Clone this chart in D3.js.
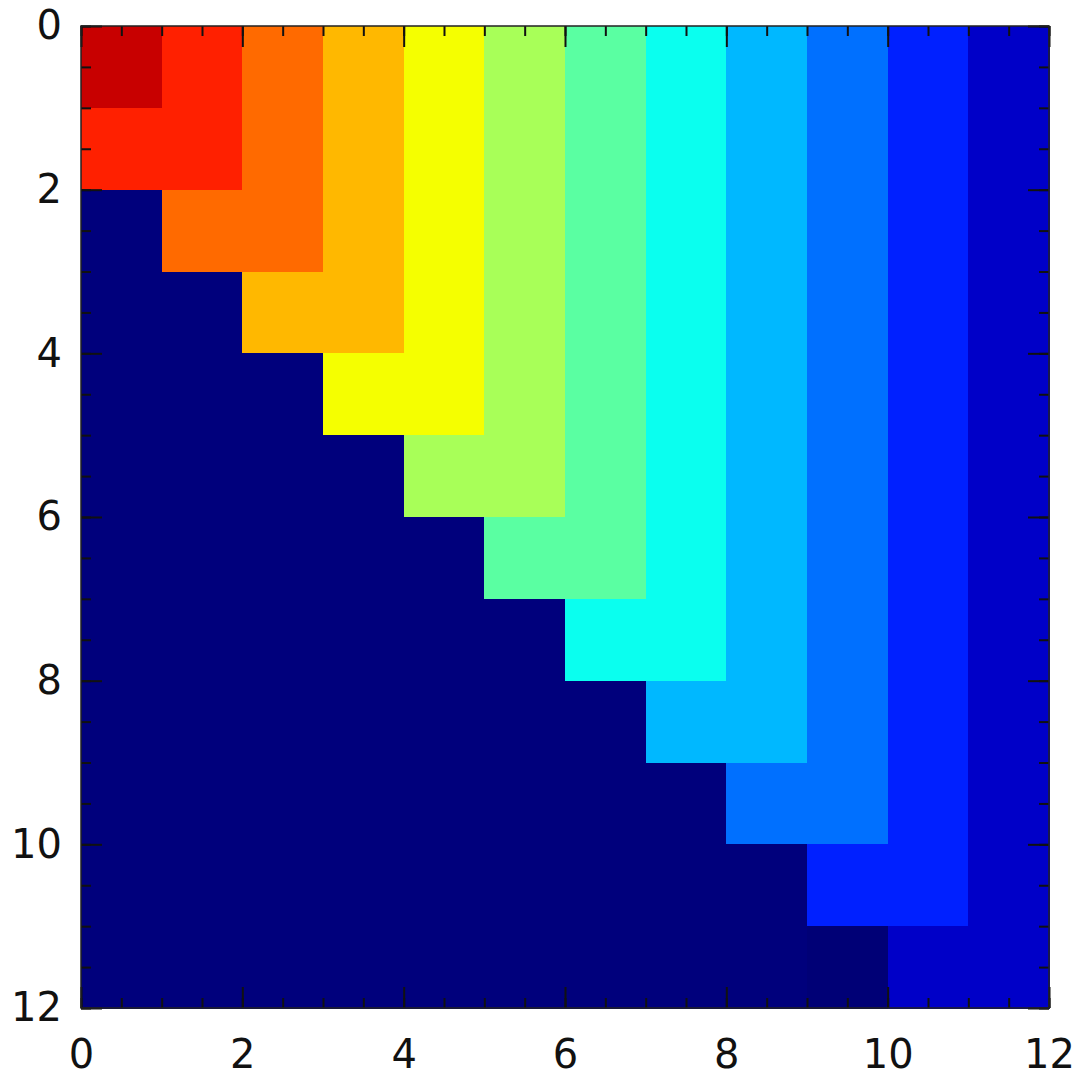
<!DOCTYPE html>
<html>
<head>
<meta charset="utf-8">
<script src="https://cdn.jsdelivr.net/npm/d3@7"></script>
<style>
  html, body { margin: 0; padding: 0; background: #fff; }
  svg { display: block; }
</style>
</head>
<body>
<svg id="chart" width="1078" height="1076"></svg>
<script>
// ---- data ----
const matrix = [
  [12, 11, 10, 9, 8, 7, 6, 5, 4, 3, 2, 1],
  [11, 11, 10, 9, 8, 7, 6, 5, 4, 3, 2, 1],
  [ 0, 10, 10, 9, 8, 7, 6, 5, 4, 3, 2, 1],
  [ 0,  0,  9, 9, 8, 7, 6, 5, 4, 3, 2, 1],
  [ 0,  0,  0, 8, 8, 7, 6, 5, 4, 3, 2, 1],
  [ 0,  0,  0, 0, 7, 7, 6, 5, 4, 3, 2, 1],
  [ 0,  0,  0, 0, 0, 6, 6, 5, 4, 3, 2, 1],
  [ 0,  0,  0, 0, 0, 0, 5, 5, 4, 3, 2, 1],
  [ 0,  0,  0, 0, 0, 0, 0, 4, 4, 3, 2, 1],
  [ 0,  0,  0, 0, 0, 0, 0, 0, 3, 3, 2, 1],
  [ 0,  0,  0, 0, 0, 0, 0, 0, 0, 2, 2, 1],
  [ 0,  0,  0, 0, 0, 0, 0, 0, 0, -1, 1, 1]
];
const levels = [-1, 0, 1, 2, 3, 4, 5, 6, 7, 8, 9, 10, 11, 12];
const xTickLabels = [0, 2, 4, 6, 8, 10, 12];
const yTickLabels = [0, 2, 4, 6, 8, 10, 12];
const minorTicks = [0, 0.5, 1, 1.5, 2, 2.5, 3, 3.5, 4, 4.5, 5, 5.5, 6, 6.5, 7, 7.5, 8, 8.5, 9, 9.5, 10, 10.5, 11, 11.5, 12];

// ---- style ----
const palette = ["#000076", "#00007c", "#0000c8", "#0020ff", "#0070ff", "#00b8ff",
                 "#0affef", "#5affa2", "#a8ff58", "#f5ff00", "#ffb800", "#ff6a00",
                 "#ff2000", "#c80000"];
const pLeft = 81, pRight = 1049, pTop = 26, pBottom = 1008;

const svg = d3.select("#chart");
const nCols = matrix[0].length, nRows = matrix.length;
const x = d3.scaleLinear().domain([0, nCols]).range([pLeft, pRight]);
const y = d3.scaleLinear().domain([0, nRows]).range([pTop, pBottom]);
const color = d3.scaleOrdinal().domain(levels).range(palette);

const cells = [];
matrix.forEach((row, i) => row.forEach((v, j) => cells.push({i, j, v})));

svg.append("g").selectAll("rect").data(cells).join("rect")
  .attr("x", d => x(d.j))
  .attr("y", d => y(d.i))
  .attr("width", d => x(d.j + 1) - x(d.j) + 0.5)
  .attr("height", d => y(d.i + 1) - y(d.i) + 0.5)
  .attr("fill", d => color(d.v))
  .attr("shape-rendering", "crispEdges");

function styleAxis(g) {
  g.select(".domain").remove();
  g.selectAll(".tick line").attr("stroke", "#111").attr("stroke-width", 2);
  g.selectAll("text").attr("font-family", "DejaVu Sans").attr("font-size", 40).attr("fill", "#111");
}

const minorLen = 10, majorLen = 21;
// minor ticks, all four sides
svg.append("g").attr("transform", `translate(0,${pBottom})`)
  .call(d3.axisBottom(x).tickValues(minorTicks).tickSize(-minorLen).tickFormat("")).call(styleAxis);
svg.append("g").attr("transform", `translate(0,${pTop})`)
  .call(d3.axisTop(x).tickValues(minorTicks).tickSize(-minorLen).tickFormat("")).call(styleAxis);
svg.append("g").attr("transform", `translate(${pLeft},0)`)
  .call(d3.axisLeft(y).tickValues(minorTicks).tickSize(-minorLen).tickFormat("")).call(styleAxis);
svg.append("g").attr("transform", `translate(${pRight},0)`)
  .call(d3.axisRight(y).tickValues(minorTicks).tickSize(-minorLen).tickFormat("")).call(styleAxis);

// major ticks + labels
svg.append("g").attr("transform", `translate(0,${pBottom})`)
  .call(d3.axisBottom(x).tickValues(xTickLabels).tickSize(-majorLen).tickPadding(32).tickFormat(d3.format("d"))).call(styleAxis);
svg.append("g").attr("transform", `translate(0,${pTop})`)
  .call(d3.axisTop(x).tickValues(xTickLabels).tickSize(-majorLen).tickFormat("")).call(styleAxis);
svg.append("g").attr("transform", `translate(${pLeft},0)`)
  .call(d3.axisLeft(y).tickValues(yTickLabels).tickSize(-majorLen).tickPadding(19).tickFormat(d3.format("d"))).call(styleAxis);
svg.append("g").attr("transform", `translate(${pRight},0)`)
  .call(d3.axisRight(y).tickValues(yTickLabels).tickSize(-majorLen).tickFormat("")).call(styleAxis);

// frame
svg.append("rect")
  .attr("x", pLeft).attr("y", pTop)
  .attr("width", pRight - pLeft).attr("height", pBottom - pTop)
  .attr("fill", "none").attr("stroke", "#222").attr("stroke-width", 1.5);
</script>
</body>
</html>
